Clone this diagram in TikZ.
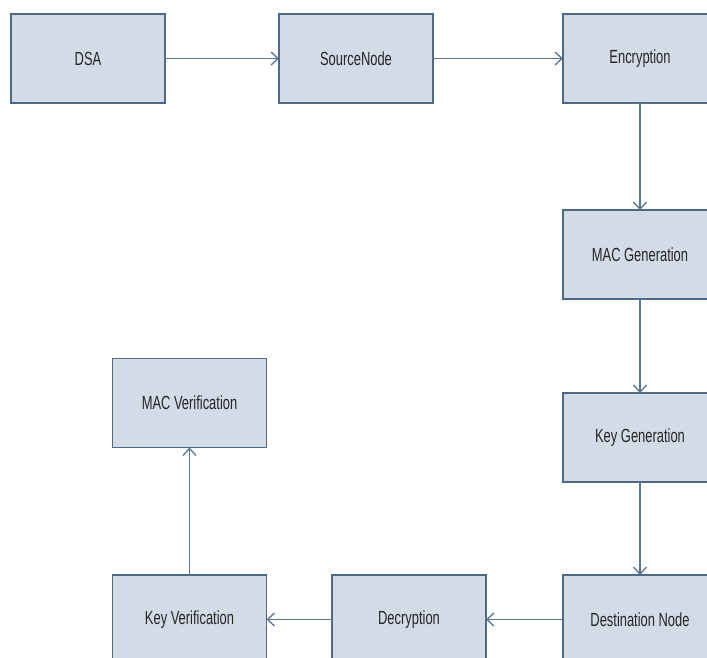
\documentclass[tikz,border=0pt]{standalone}
\usepackage{fontspec}
\setmainfont{Liberation Sans}[FakeStretch=0.68]
\usetikzlibrary{arrows.meta}
\definecolor{boxfill}{HTML}{D3DBE6}
\definecolor{boxline}{HTML}{4F6A84}
\definecolor{linkline}{HTML}{587690}
\tikzset{
  stepbox/.style={draw=boxline, fill=boxfill, line width=1.8pt,
    minimum width=154pt, minimum height=89pt, inner sep=0pt, outer sep=0pt,
    font=\fontsize{19pt}{22pt}\selectfont, text=black!85},
  link/.style={draw=linkline, line width=1.3pt,
    -{Straight Barb[length=7pt,width=13pt,line width=1.3pt]}}
}
\begin{document}
\begin{tikzpicture}[x=1pt,y=-1pt]
  \useasboundingbox (0,0) rectangle (707,657);
  \begin{scope}
    \clip (0,0) rectangle (707,657);
    \node[stepbox] (dsa)  at (88,58.5)   {DSA};
    \node[stepbox] (src)  at (356,58.5)  {SourceNode};
    \node[stepbox] (enc)  at (640,58.5)  {Encryption};
    \node[stepbox] (macg) at (640,254.5) {MAC Generation};
    \node[stepbox] (keyg) at (640,437.5) {Key Generation};
    \node[stepbox] (dst)  at (640,619.5) {Destination Node};
    \node[stepbox] (dec)  at (409,619.5) {Decryption};
    \node[stepbox] (keyv) at (189.5,619.5) {Key Verification};
    \node[stepbox] (macv) at (189.5,403) {MAC Verification};
    \draw[link] (dsa) -- (src);
    \draw[link] (src) -- (enc);
    \draw[link] (enc) -- (macg);
    \draw[link] (macg) -- (keyg);
    \draw[link] (keyg) -- (dst);
    \draw[link] (dst) -- (dec);
    \draw[link] (dec) -- (keyv);
    \draw[link] (keyv) -- (macv);
  \end{scope}
\end{tikzpicture}
\end{document}
